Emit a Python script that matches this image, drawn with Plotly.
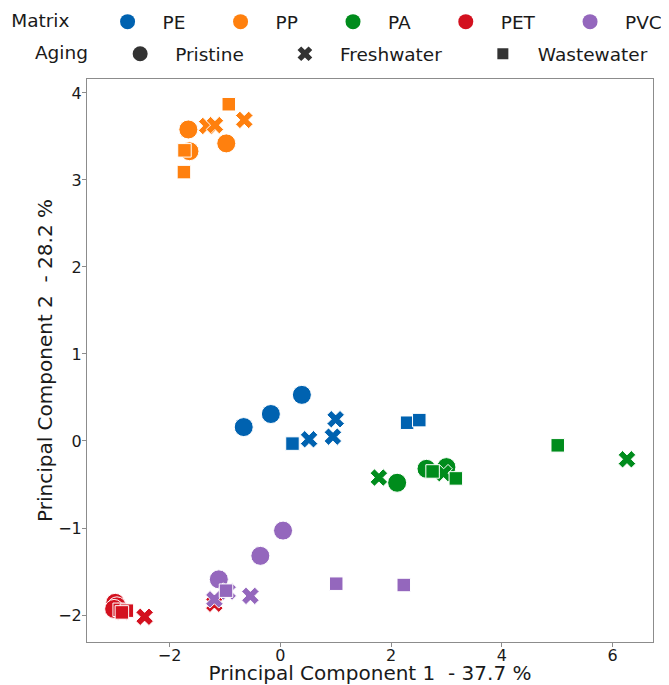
import plotly.graph_objects as go

# ---- data ----
materials = ["PE", "PP", "PA", "PET", "PVC"]
aging_levels = ["Pristine", "Freshwater", "Wastewater"]
colors = ["#0062b0", "#ff800e", "#008c1c", "#d3111f", "#9467bd"]

# aging of each of the 9 samples per material (3 replicates each)
aging = ["Pristine"] * 3 + ["Freshwater"] * 3 + ["Wastewater"] * 3

pe_pc1 = [-0.66, -0.17, 0.39, 0.52, 0.95, 1.00, 0.22, 2.29, 2.51]
pe_pc2 = [0.16, 0.31, 0.53, 0.02, 0.05, 0.25, -0.03, 0.21, 0.24]

pp_pc1 = [-1.66, -0.975, -1.64, -1.32, -1.18, -0.65, -0.93, -1.73, -1.74]
pp_pc2 = [3.58, 3.42, 3.33, 3.62, 3.63, 3.69, 3.87, 3.34, 3.09]

pa_pc1 = [2.11, 2.64, 3.00, 1.78, 2.95, 6.26, 2.75, 3.17, 5.01]
pa_pc2 = [-0.48, -0.32, -0.30, -0.42, -0.37, -0.21, -0.35, -0.43, -0.05]

pet_pc1 = [-2.98, -2.95, -3.00, -2.85, -1.19, -2.45, -2.90, -2.77, -2.86]
pet_pc2 = [-1.86, -1.90, -1.93, -1.96, -1.87, -2.02, -1.94, -1.95, -1.97]

pvc_pc1 = [0.05, -0.36, -1.11, -0.95, -0.54, -1.19, 1.01, 2.23, -0.98]
pvc_pc2 = [-1.03, -1.32, -1.59, -1.73, -1.78, -1.82, -1.64, -1.655, -1.72]

pc1 = [pe_pc1, pp_pc1, pa_pc1, pet_pc1, pvc_pc1]
pc2 = [pe_pc2, pp_pc2, pa_pc2, pet_pc2, pvc_pc2]

x_ticks = [-2, 0, 2, 4, 6]
y_ticks = [-2, -1, 0, 1, 2, 3, 4]

x_title = "Principal Component 1  - 37.7 %"
y_title = "Principal Component 2  - 28.2 %"

# ---- styling ----
FONT = "DejaVu Sans"
sym_map = {"Pristine": "circle", "Freshwater": "x", "Wastewater": "square"}
size_map = {"Pristine": 19, "Freshwater": 15.5, "Wastewater": 13.5}
leg_size = {"Pristine": 15, "Freshwater": 13, "Wastewater": 11}
AX = "#8c8c8c"
PAD1 = "\u2002\u00a0"          # extra space after legend labels (row 1)
PAD2 = "\u2002\u00a0\u00a0"    # extra space after legend labels (row 2)

fig = go.Figure()

for m, c, xs, ys in zip(materials, colors, pc1, pc2):
    fig.add_trace(go.Scatter(
        x=xs, y=ys, mode="markers", showlegend=False, name=m,
        marker=dict(color=c, opacity=1,
                    symbol=[sym_map[a] for a in aging],
                    size=[size_map[a] for a in aging],
                    line=dict(color="white", width=1)),
    ))

# legend entries: Matrix
for i, (m, c) in enumerate(zip(materials, colors)):
    label = m + (PAD1 if i < len(materials) - 1 else "")
    fig.add_trace(go.Scatter(
        x=[None], y=[None], mode="markers", name=label, legend="legend",
        marker=dict(color=c, symbol="circle", size=15, opacity=1, line=dict(width=0)),
    ))
# legend entries: Aging
for i, a in enumerate(aging_levels):
    label = a + (PAD2 if i < len(aging_levels) - 1 else "")
    fig.add_trace(go.Scatter(
        x=[None], y=[None], mode="markers", name=label, legend="legend2",
        marker=dict(color="#333333", symbol=sym_map[a], size=leg_size[a],
                    opacity=1, line=dict(width=0)),
    ))

# the page adds an 8 px body margin, so the figure is sized/offset to compensate
fig.update_layout(
    width=661, height=677,
    margin=dict(l=79, r=16, t=71, b=43, autoexpand=False),
    paper_bgcolor="white", plot_bgcolor="white",
    font=dict(family=FONT, size=16, color="#1a1a1a"),
    legend=dict(
        orientation="h", x=-0.1375, xanchor="left", y=1.101, yanchor="middle",
        title=dict(text="Matrix" + PAD1, side="left", font=dict(size=18.5)),
        font=dict(size=18.5), itemwidth=60, bgcolor="rgba(0,0,0,0)",
    ),
    legend2=dict(
        orientation="h", x=-0.0956, xanchor="left", y=1.044, yanchor="middle",
        title=dict(text="Aging\u2002", side="left", font=dict(size=18.5)),
        font=dict(size=18.5), itemwidth=60, bgcolor="rgba(0,0,0,0)",
    ),
)

fig.update_xaxes(
    range=[-3.49, 6.73], tickvals=x_ticks, showgrid=False, zeroline=False,
    showline=True, mirror=True, linecolor=AX, linewidth=1,
    ticks="outside", ticklen=4, tickcolor=AX, tickfont=dict(size=16, color="#1a1a1a"),
    ticklabelstandoff=-5,
    title=dict(text=x_title, font=dict(size=20), standoff=11),
)
fig.update_yaxes(
    range=[-2.31, 4.16], tickvals=y_ticks, showgrid=False, zeroline=False,
    showline=True, mirror=True, linecolor=AX, linewidth=1,
    ticks="outside", ticklen=4, tickcolor=AX, tickfont=dict(size=16, color="#1a1a1a"),
    ticklabelstandoff=-3,
    title=dict(text=y_title, font=dict(size=20), standoff=0),
)

fig.write_html("out.html")
